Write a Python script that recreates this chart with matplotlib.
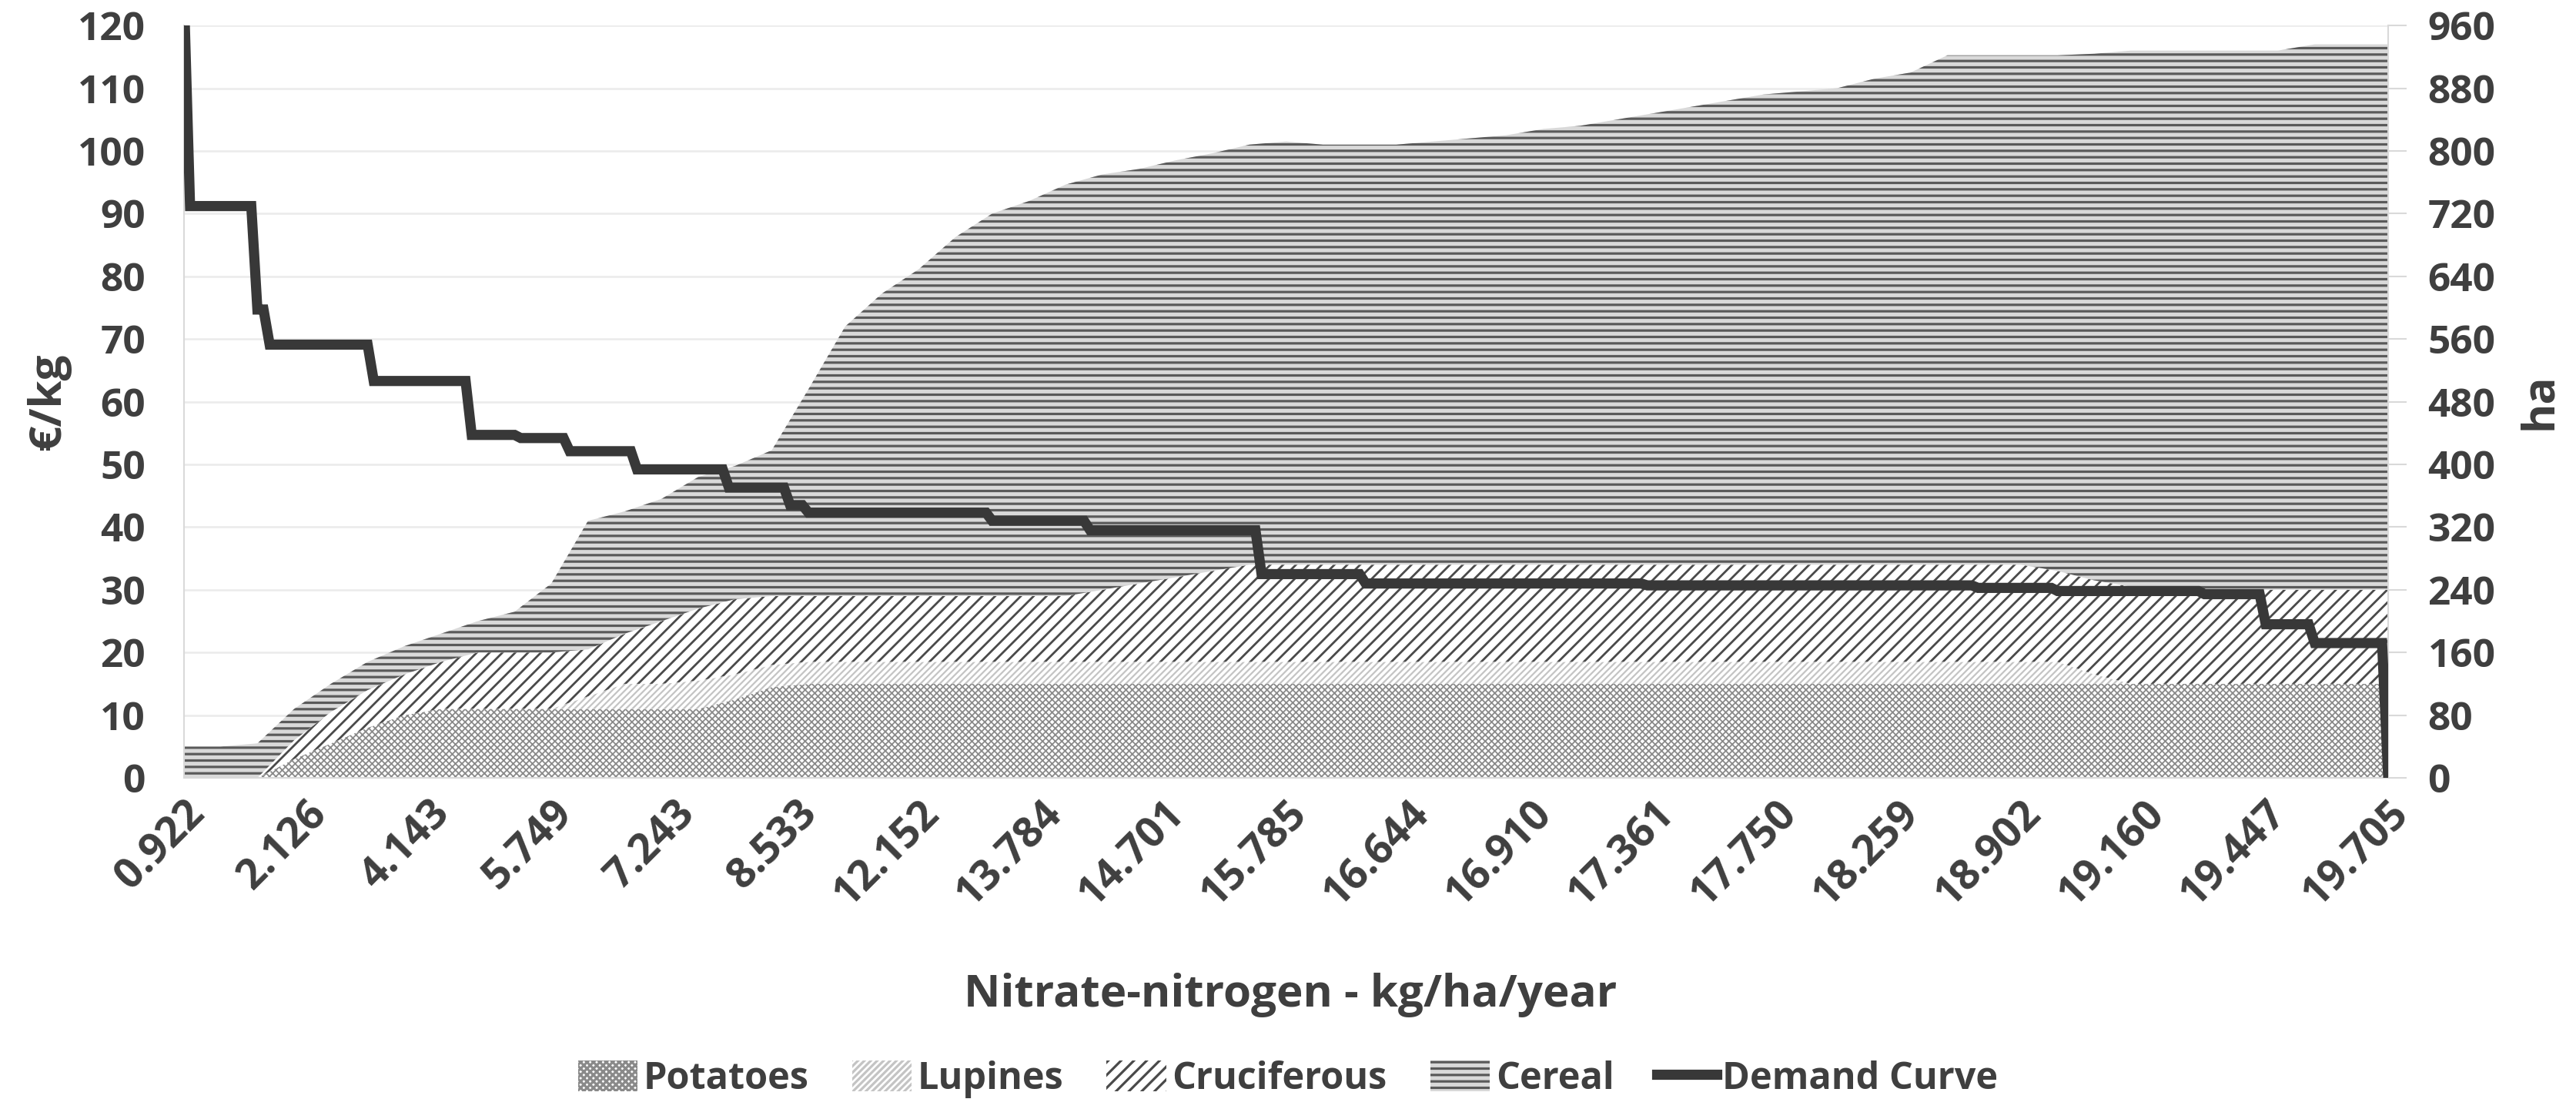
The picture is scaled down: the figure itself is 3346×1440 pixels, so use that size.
import numpy as np
import matplotlib
matplotlib.use("Agg")
import matplotlib.pyplot as plt
from matplotlib.patches import Patch
from matplotlib.lines import Line2D

# ---------------- data ----------------
x_tick_labels = ["0.922", "2.126", "4.143", "5.749", "7.243", "8.533", "12.152",
                 "13.784", "14.701", "15.785", "16.644", "16.910", "17.361",
                 "17.750", "18.259", "18.902", "19.160", "19.447", "19.705"]
n_categories = 361          # number of nitrate categories on the x axis
label_every = 20            # one label every 20 categories

# Demand curve (EUR/kg) as run-length data: level and number of categories
demand_levels = [125, 91.2, 74.7, 69.1, 63.3, 54.7, 54.2, 52.1, 49.2, 46.3, 43.5,
                 42.3, 41.0, 39.5, 32.5, 31.0, 30.7, 30.3, 29.8, 29.3, 24.5, 21.5, 0]
demand_runs = [1, 11, 2, 17, 16, 8, 8, 11, 15, 10, 3,
               30, 16, 28, 17, 46, 54, 13, 24, 10, 8, 12, 1]

# Areas (ha), read every 6th category
area_step = 6
potatoes = [0, 0, 0, 24, 44, 64, 80, 88, 88, 88, 88, 88, 88, 88, 88, 100, 116] + [120] * 44
lupines = [0] * 11 + [16, 32, 32, 36, 32, 28] + [28] * 35 + [12] + [0] * 8
cruciferous = [0, 0, 0, 24, 40, 48, 52, 60, 72, 72, 72, 60, 64, 80, 92, 96, 88] + [84] * 8 + \
              [92, 100, 108, 116] + [124] * 22 + [116, 120, 124] + [120] * 7
cereal = [40, 40, 44, 40, 36, 36, 36, 36, 40, 52, 88, 164, 156, 156, 168, 170, 186,
          264, 344, 386, 417, 458, 488, 504, 525, 530, 529, 532, 533, 536, 540,
          536, 536, 536, 540, 544, 548, 556, 560, 568, 576, 584, 592, 600, 604,
          608, 620, 628, 650, 650, 650, 658, 672, 684, 688, 688, 688, 688, 696, 696, 696]

series_names = ["Potatoes", "Lupines", "Cruciferous", "Cereal"]

# ---------------- style ----------------
FONT = ["Open Sans", "DejaVu Sans"]
TXT = "#3f3f3f"
plt.rcParams["font.family"] = FONT
plt.rcParams["font.weight"] = "bold"

styles = {
    "Potatoes":    dict(face="#ffffff", hatch_col="#8a8a8a", hatch="xxxx", hlw=1.3),
    "Lupines":     dict(face="#ffffff", hatch_col="#c4c4c4", hatch="////", hlw=1.6),
    "Cruciferous": dict(face="#ffffff", hatch_col="#4a4a4a", hatch="//", hlw=2.0),
    "Cereal":      dict(face="#d9d9d9", hatch_col="#5a5a5a", hatch="--", hlw=2.3),
}

fig = plt.figure(figsize=(33.46, 14.40), dpi=100)
ax = fig.add_axes([0.0714, 0.2986, 0.8557, 0.6784])
ax2 = ax.twinx()
ax.set_zorder(ax2.get_zorder() + 1)
ax.patch.set_visible(False)


def fill(axis, x, lo, hi, st):
    plt.rcParams["hatch.linewidth"] = st["hlw"]
    kw = dict(facecolor=st["face"], edgecolor=st["hatch_col"], hatch=st["hatch"], linewidth=0)
    try:
        return axis.fill_between(x, lo, hi, hatchcolor=st["hatch_col"], **kw)
    except Exception:
        return axis.fill_between(x, lo, hi, **kw)


xa = np.arange(0, n_categories, area_step)
base = np.zeros(len(xa))
for name, vals in zip(series_names, [potatoes, lupines, cruciferous, cereal]):
    top = base + np.asarray(vals, dtype=float)
    fill(ax2, xa, base, top, styles[name])
    base = top

demand = np.repeat(demand_levels, demand_runs)
xd = np.arange(n_categories)
ax.plot(xd, demand, color="#383838", lw=9.5, solid_joinstyle="miter",
        solid_capstyle="butt", zorder=5, clip_on=True)

# axes
ax.set_xlim(0, n_categories - 1)
ax.set_ylim(0, 120)
ax2.set_ylim(0, 960)
ax.set_yticks(np.arange(0, 121, 10))
ax2.set_yticks(np.arange(0, 961, 80))
ax2.yaxis.grid(True, color="#ebebeb", lw=1.8)
ax2.set_axisbelow(True)

ax.set_xticks(np.arange(0, n_categories, label_every))
ax.set_xticklabels(x_tick_labels, rotation=45, ha="right", rotation_mode="anchor")
ax.tick_params(axis="x", length=0, pad=14, labelsize=39, labelcolor=TXT)
ax.tick_params(axis="y", length=0, pad=36, labelsize=37, labelcolor=TXT)
ax2.tick_params(axis="y", length=17, width=1.5, color="#d9d9d9", pad=20,
                labelsize=37, labelcolor=TXT)
for t in ax.get_xticklabels() + ax.get_yticklabels() + ax2.get_yticklabels():
    t.set_fontweight("bold")

for a in (ax, ax2):
    a.spines["top"].set_visible(False)
ax.spines["right"].set_visible(False)
ax2.spines["left"].set_visible(False)
ax2.spines["bottom"].set_visible(False)
ax.spines["left"].set_color("#d9d9d9")
ax.spines["left"].set_linewidth(1.5)
ax.spines["bottom"].set_color("#d9d9d9")
ax.spines["bottom"].set_linewidth(1.5)
ax2.spines["right"].set_color("#d9d9d9")
ax2.spines["right"].set_linewidth(1.5)

fig.text(0.019, 0.638, "€/kg", rotation=90, ha="center", va="center",
         fontsize=42, fontweight="bold", color=TXT)
fig.text(0.986, 0.638, "ha", rotation=90, ha="center", va="center",
         fontsize=42, fontweight="bold", color=TXT)
fig.text(0.501, 0.103, "Nitrate-nitrogen - kg/ha/year", ha="center", va="center",
         fontsize=42, fontweight="bold", color=TXT)

handles = []
for name in series_names:
    st = styles[name]
    plt.rcParams["hatch.linewidth"] = st["hlw"]
    handles.append(Patch(facecolor=st["face"], edgecolor=st["hatch_col"],
                         hatch=st["hatch"], linewidth=0))
handles.append(Line2D([], [], color="#383838", lw=9.5))
fig.legend(handles, series_names + ["Demand Curve"], loc="center",
           bbox_to_anchor=(0.5, 0.027), ncol=5, frameon=False,
           prop=dict(family=FONT, weight="bold", size=35),
           labelcolor=TXT, handlelength=1.6, handleheight=0.9,
           handletextpad=0.15, columnspacing=1.15)

fig.savefig("out.png", dpi=100, facecolor="white")
